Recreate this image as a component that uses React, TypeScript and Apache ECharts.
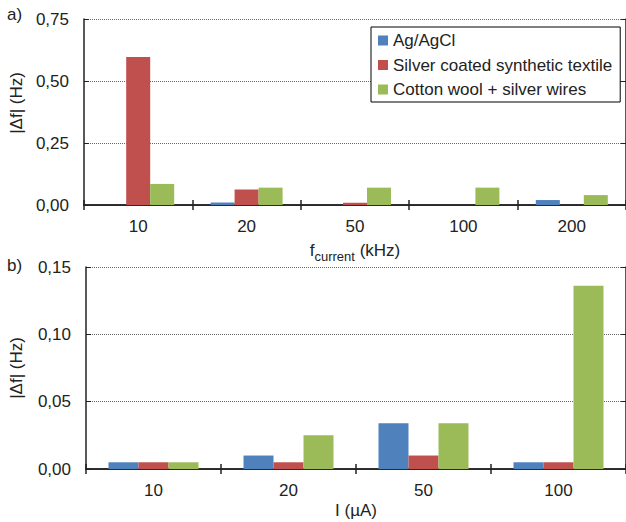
import React, { useEffect, useRef } from "react";
import * as echarts from "echarts";

const seriesNames = ["Ag/AgCl", "Silver coated synthetic textile", "Cotton wool + silver wires"];
const colors = ["#4F81BD", "#C0504D", "#9BBB59"];

// Panel a)
const freqCategories = ["10", "20", "50", "100", "200"];
const freqAgAgCl = [0, 0.01, 0, 0, 0.02];
const freqSilverTextile = [0.597, 0.063, 0.009, 0, 0];
const freqCottonWool = [0.085, 0.07, 0.07, 0.07, 0.04];

// Panel b)
const currentCategories = ["10", "20", "50", "100"];
const currAgAgCl = [0.005, 0.01, 0.034, 0.005];
const currSilverTextile = [0.005, 0.005, 0.01, 0.005];
const currCottonWool = [0.005, 0.025, 0.034, 0.136];

const FONT = "Liberation Sans, Arial, sans-serif";
const LINE = "#222";
const FS = 17;

export default function App() {
  const ref = useRef<HTMLDivElement>(null);
  useEffect(() => {
    if (!ref.current) return;
    const chart = echarts.init(ref.current, null, { renderer: "svg" });
    const fmt = (v: number) => v.toFixed(2).replace(".", ",");
    const axisLine = { show: true, lineStyle: { color: LINE, width: 1.5 } };
    const catAxis = (gridIndex: number, data: string[], position: string, showLabels: boolean, extra: any = {}) => ({
      type: "category",
      gridIndex,
      data,
      position,
      axisLine,
      axisTick: { show: true, inside: true, length: 5, lineStyle: { color: LINE, width: 1.5 } },
      axisLabel: { show: showLabels, fontSize: FS, color: "#222", fontFamily: FONT, margin: 13 },
      splitLine: { show: false },
      ...extra,
    });
    const valAxis = (gridIndex: number, max: number, interval: number, position: string, showLabels: boolean, extra: any = {}) => ({
      type: "value",
      gridIndex,
      min: 0,
      max,
      interval,
      position,
      axisLine,
      axisTick: { show: true, inside: true, length: 5, lineStyle: { color: LINE, width: 1 } },
      axisLabel: { show: showLabels, fontSize: FS, color: "#222", fontFamily: FONT, margin: 15, formatter: fmt },
      splitLine: showLabels ? { show: true, lineStyle: { color: "#666", type: "dotted", width: 1 } } : { show: false },
      ...extra,
    });
    const nameStyle = { fontSize: FS, color: "#222", fontFamily: FONT };
    const bar = (name: string, data: number[], color: string, xi: number, yi: number, w: number) => ({
      type: "bar",
      name,
      data,
      xAxisIndex: xi,
      yAxisIndex: yi,
      barWidth: w,
      barGap: "0%",
      itemStyle: { color },
    });
    chart.setOption({
      animation: false,
      color: colors,
      textStyle: { fontFamily: FONT },
      grid: [
        { left: 82, top: 19, width: 546, height: 186 },
        { left: 82, top: 267, width: 546, height: 202 },
      ],
      legend: {
        data: seriesNames,
        orient: "vertical",
        left: 371,
        top: 27,
        borderColor: "#000",
        borderWidth: 1,
        backgroundColor: "#fff",
        padding: [5, 8, 4, 7],
        itemGap: 7.5,
        itemWidth: 10,
        itemHeight: 10,
        icon: "rect",
        textStyle: { fontSize: FS, color: "#222", fontFamily: FONT, lineHeight: 17 },
      },
      xAxis: [
        catAxis(0, freqCategories, "bottom", true, {
          name: "{f|f}{sub|current}{f| (kHz)}",
          nameLocation: "middle",
          nameGap: 37,
          nameTextStyle: {
            ...nameStyle,
            rich: {
              f: { fontSize: FS, color: "#222", fontFamily: FONT, verticalAlign: "bottom", padding: [0, 0, 4, 0] },
              sub: { fontSize: 13, color: "#222", fontFamily: FONT, verticalAlign: "bottom" },
            },
          },
        }),
        catAxis(0, freqCategories, "top", false),
        catAxis(1, currentCategories, "bottom", true, {
          name: "I (µA)",
          nameLocation: "middle",
          nameGap: 33,
          nameTextStyle: nameStyle,
        }),
        catAxis(1, currentCategories, "top", false),
      ],
      yAxis: [
        valAxis(0, 0.75, 0.25, "left", true, {
          name: "|Δf| (Hz)",
          nameLocation: "middle",
          nameGap: 56,
          nameTextStyle: { ...nameStyle, padding: [0, 0, 0, 18] },
        }),
        valAxis(0, 0.75, 0.25, "right", false),
        valAxis(1, 0.15, 0.05, "left", true, {
          name: "|Δf| (Hz)",
          nameLocation: "middle",
          nameGap: 61,
          nameTextStyle: nameStyle,
        }),
        valAxis(1, 0.15, 0.05, "right", false),
      ],
      series: [
        bar(seriesNames[0], freqAgAgCl, colors[0], 0, 0, 24),
        bar(seriesNames[1], freqSilverTextile, colors[1], 0, 0, 24),
        bar(seriesNames[2], freqCottonWool, colors[2], 0, 0, 24),
        bar(seriesNames[0], currAgAgCl, colors[0], 2, 2, 30),
        bar(seriesNames[1], currSilverTextile, colors[1], 2, 2, 30),
        bar(seriesNames[2], currCottonWool, colors[2], 2, 2, 30),
      ],
      graphic: [
        { type: "text", left: 7, top: 6, style: { text: "a)", fontSize: FS, fill: "#222", fontFamily: FONT } },
        { type: "text", left: 7, top: 257, style: { text: "b)", fontSize: FS, fill: "#222", fontFamily: FONT } },
      ],
    });
    return () => chart.dispose();
  }, []);
  return (
    <div
      ref={ref}
      style={{ position: "absolute", left: 0, top: 0, width: 626, height: 522, background: "#fff" }}
    />
  );
}
